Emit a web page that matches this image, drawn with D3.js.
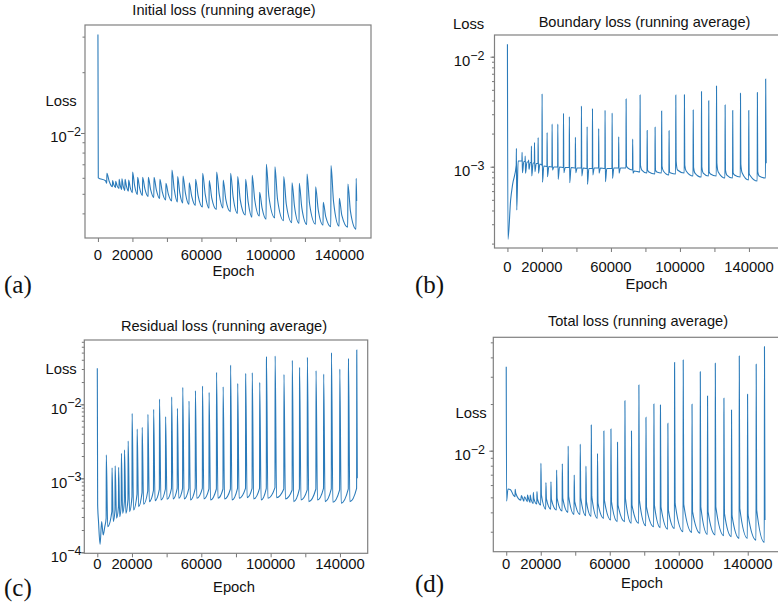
<!DOCTYPE html>
<html>
<head>
<meta charset="utf-8">
<script src="https://cdn.jsdelivr.net/npm/d3@7"></script>
<style>
  body { margin: 0; background: #fff; }
  text { font-family: "Liberation Sans", Arial, sans-serif; fill: #111; }
</style>
</head>
<body>
<div id="chart"></div>
<script>
// epochs where the running averages jump (same for all four panels)
const spikeEpochs = [5200, 8500, 10300, 12300, 13900, 15700, 17800, 20100, 23000, 25900,
  29200, 32500, 35900, 39400, 42900, 46200, 49300, 52900, 56600, 60700,
  64500, 68800, 72600, 76900, 81000, 85600, 89400, 93700, 97600, 102600,
  107700, 112500, 116700, 121200, 126200, 130600, 135100, 139900, 144900, 149700];
const endEpoch = 150000;

const xTickValues = [0, 20000, 40000, 60000, 80000, 100000, 120000, 140000];
const xTickLabels = [0, 20000, 60000, 100000, 140000];

// (a) initial loss
const initStartEpochs = [0, 200, 4400];
const initStartValues = [3.07e-2, 6.0e-3, 5.8e-3];
const initPre = [5.64e-3, 5.42e-3, 5.37e-3, 5.31e-3, 5.25e-3, 5.20e-3, 5.16e-3, 5.07e-3, 4.96e-3, 4.90e-3,
  4.85e-3, 4.79e-3, 4.74e-3, 4.66e-3, 4.61e-3, 4.55e-3, 4.50e-3, 4.43e-3, 4.38e-3, 4.30e-3,
  4.24e-3, 4.18e-3, 4.25e-3, 4.08e-3, 4.00e-3, 3.93e-3, 3.83e-3, 3.88e-3, 3.74e-3, 3.80e-3,
  3.68e-3, 3.60e-3, 3.57e-3, 3.53e-3, 3.54e-3, 3.50e-3, 3.44e-3, 3.46e-3, 3.42e-3, 3.34e-3];
const initPeak = [6.32e-3, 5.81e-3, 5.76e-3, 5.90e-3, 5.94e-3, 5.90e-3, 5.85e-3, 6.41e-3, 6.03e-3, 6.03e-3,
  6.03e-3, 6.03e-3, 5.90e-3, 5.63e-3, 6.56e-3, 6.08e-3, 6.12e-3, 5.67e-3, 5.90e-3, 6.32e-3,
  5.81e-3, 6.41e-3, 5.85e-3, 6.32e-3, 6.08e-3, 5.90e-3, 6.17e-3, 5.09e-3, 7.00e-3, 6.81e-3,
  6.08e-3, 5.67e-3, 5.63e-3, 6.27e-3, 5.42e-3, 4.54e-3, 6.89e-3, 4.75e-3, 5.59e-3, 5.97e-3];
const initPost = [5.77e-3, 5.54e-3, 5.49e-3, 5.50e-3, 5.48e-3, 5.45e-3, 5.37e-3, 5.49e-3, 5.33e-3, 5.29e-3,
  5.26e-3, 5.23e-3, 5.11e-3, 4.98e-3, 5.27e-3, 5.07e-3, 5.03e-3, 4.85e-3, 4.88e-3, 4.97e-3,
  4.76e-3, 5.00e-3, 4.71e-3, 4.81e-3, 4.67e-3, 4.55e-3, 4.67e-3, 4.23e-3, 4.85e-3, 4.70e-3,
  4.44e-3, 4.30e-3, 4.26e-3, 4.45e-3, 4.17e-3, 3.84e-3, 4.56e-3, 3.91e-3, 4.09e-3];
const initEnd = 4.6e-3;

// (b) boundary loss
const bndStartEpochs = [0, 300, 1850, 3000];
const bndStartValues = [1.30e-2, 2.19e-4, 4.98e-4, 6.9e-4];
const bndPre = [1.036e-3, 1.127e-3, 1.115e-3, 1.103e-3, 1.092e-3, 1.080e-3, 1.069e-3, 1.036e-3, 1.004e-3, 9.94e-4,
  9.94e-4, 9.83e-4, 9.83e-4, 9.73e-4, 9.73e-4, 9.63e-4, 9.63e-4, 9.73e-4, 9.63e-4, 9.63e-4,
  9.73e-4, 9.73e-4, 9.33e-4, 8.95e-4, 8.76e-4, 8.58e-4, 8.76e-4, 8.40e-4, 8.58e-4, 8.76e-4,
  8.23e-4, 8.06e-4, 8.23e-4, 8.23e-4, 7.89e-4, 7.89e-4, 8.06e-4, 7.57e-4, 7.41e-4, 7.89e-4];
const bndPeak = [1.47e-3, 1.35e-3, 1.25e-3, 1.15e-3, 1.54e-3, 1.66e-3, 1.84e-3, 4.61e-3, 2.04e-3, 2.44e-3,
  2.44e-3, 3.06e-3, 2.85e-3, 1.85e-3, 3.56e-3, 2.31e-3, 3.38e-3, 2.22e-3, 3.26e-3, 3.08e-3,
  1.87e-3, 4.12e-3, 1.78e-3, 4.49e-3, 2.13e-3, 2.28e-3, 3.21e-3, 2.12e-3, 4.47e-3, 4.50e-3,
  3.28e-3, 4.81e-3, 3.98e-3, 5.42e-3, 3.64e-3, 3.24e-3, 4.65e-3, 3.24e-3, 4.73e-3, 6.27e-3];
const bndPost = [4.04e-4, 8.82e-4, 8.71e-4, 9.47e-4, 8.23e-4, 9.01e-4, 8.71e-4, 7.22e-4, 8.11e-4, 9.33e-4,
  7.68e-4, 8.82e-4, 7.15e-4, 8.82e-4, 8.23e-4, 6.92e-4, 8.40e-4, 8.71e-4, 7.31e-4, 7.84e-4,
  8.71e-4, 1.015e-3, 8.71e-4, 1.036e-3, 9.33e-4, 9.33e-4, 1.015e-3, 9.01e-4, 1.127e-3, 1.036e-3,
  9.87e-4, 1.0e-3, 9.01e-4, 1.087e-3, 9.33e-4, 8.82e-4, 1.058e-3, 8.71e-4, 9.01e-4];
const bndSettle = [1.127e-3, 1.115e-3, 1.103e-3, 1.092e-3, 1.080e-3, 1.069e-3, 1.058e-3, 1.015e-3, 1.004e-3, 9.94e-4,
  9.94e-4, 9.83e-4, 9.83e-4, 9.73e-4, 9.73e-4, 9.63e-4, 9.73e-4, 9.73e-4, 9.63e-4, 9.73e-4,
  9.73e-4, 9.73e-4, 9.14e-4, 9.33e-4, 8.95e-4, 8.95e-4, 9.14e-4, 8.76e-4, 9.33e-4, 9.14e-4,
  8.76e-4, 8.76e-4, 8.58e-4, 8.95e-4, 8.40e-4, 8.40e-4, 8.76e-4, 8.23e-4, 8.23e-4];
const bndEnd = 1.074e-3;

// (c) residual loss
const resStartEpochs = [0, 200, 700, 1600, 2500, 3400, 4300];
const resStartValues = [3.07e-2, 4.4e-4, 2.6e-4, 1.28e-4, 2.6e-4, 1.71e-4, 2.2e-4];
const resPre = [2.88e-4, 3.55e-4, 3.73e-4, 4.14e-4, 4.46e-4, 4.84e-4, 5.26e-4, 5.65e-4, 6.08e-4, 6.40e-4,
  6.74e-4, 6.88e-4, 7.10e-4, 7.17e-4, 7.32e-4, 7.32e-4, 7.32e-4, 7.32e-4, 7.32e-4, 7.32e-4,
  7.17e-4, 7.17e-4, 7.17e-4, 7.17e-4, 7.32e-4, 7.32e-4, 7.32e-4, 7.32e-4, 7.32e-4, 7.48e-4,
  7.17e-4, 6.96e-4, 7.17e-4, 6.96e-4, 7.17e-4, 7.32e-4, 7.17e-4, 6.96e-4, 7.17e-4, 7.32e-4];
const resPeak = [2.07e-3, 1.39e-3, 1.47e-3, 1.41e-3, 2.18e-3, 2.42e-3, 3.20e-3, 7.55e-3, 4.64e-3, 4.89e-3,
  7.33e-3, 8.56e-3, 1.18e-2, 6.81e-3, 1.26e-2, 8.83e-3, 1.70e-2, 1.11e-2, 1.53e-2, 1.77e-2,
  1.45e-2, 2.71e-2, 1.73e-2, 3.40e-2, 1.92e-2, 2.62e-2, 2.68e-2, 1.98e-2, 4.41e-2, 4.50e-2,
  2.54e-2, 3.93e-2, 3.16e-2, 4.32e-2, 2.85e-2, 2.57e-2, 4.99e-2, 3.00e-2, 4.18e-2, 5.42e-2];
const resPost = [2.22e-4, 2.60e-4, 2.88e-4, 3.03e-4, 3.37e-4, 3.37e-4, 3.55e-4, 3.73e-4, 4.14e-4, 4.46e-4,
  4.84e-4, 4.99e-4, 5.10e-4, 5.20e-4, 5.26e-4, 5.37e-4, 5.26e-4, 5.10e-4, 5.37e-4, 5.26e-4,
  5.10e-4, 5.37e-4, 5.26e-4, 5.10e-4, 5.37e-4, 5.48e-4, 5.26e-4, 5.10e-4, 5.37e-4, 5.48e-4,
  5.26e-4, 4.84e-4, 5.10e-4, 4.84e-4, 5.10e-4, 4.84e-4, 4.74e-4, 4.60e-4, 4.84e-4];
const resEnd = 1.0e-3;

// (d) total loss
const totStartEpochs = [0, 200, 1000, 2500, 4000];
const totStartValues = [3.48e-2, 4.73e-3, 5.66e-3, 5.6e-3, 5.2e-3];
const totPre = [5.05e-3, 4.80e-3, 4.73e-3, 4.69e-3, 4.64e-3, 4.57e-3, 4.53e-3, 4.46e-3, 4.20e-3, 4.20e-3,
  4.14e-3, 4.08e-3, 4.00e-3, 3.88e-3, 3.88e-3, 3.81e-3, 3.77e-3, 3.66e-3, 3.66e-3, 3.57e-3,
  3.48e-3, 3.48e-3, 3.40e-3, 3.40e-3, 3.28e-3, 3.23e-3, 3.19e-3, 3.12e-3, 3.15e-3, 3.00e-3,
  2.97e-3, 2.93e-3, 2.88e-3, 2.86e-3, 2.83e-3, 2.79e-3, 2.72e-3, 2.72e-3, 2.65e-3, 2.56e-3];
const totPeak = [5.63e-3, 4.85e-3, 4.85e-3, 5.18e-3, 5.18e-3, 5.38e-3, 5.44e-3, 8.28e-3, 6.22e-3, 6.31e-3,
  7.50e-3, 8.24e-3, 1.072e-2, 6.97e-3, 1.104e-2, 7.96e-3, 1.464e-2, 9.61e-3, 1.339e-2, 1.380e-2,
  1.132e-2, 2.10e-2, 1.339e-2, 2.65e-2, 1.64e-2, 2.00e-2, 1.97e-2, 1.50e-2, 3.71e-2, 3.85e-2,
  1.99e-2, 3.23e-2, 2.25e-2, 3.66e-2, 2.18e-2, 1.83e-2, 4.08e-2, 2.31e-2, 3.61e-2, 4.69e-2];
const totPost = [5.31e-3, 5.13e-3, 5.05e-3, 5.05e-3, 4.97e-3, 4.93e-3, 4.88e-3, 5.18e-3, 4.88e-3, 4.85e-3,
  4.93e-3, 4.93e-3, 5.05e-3, 4.69e-3, 4.97e-3, 4.69e-3, 5.05e-3, 4.57e-3, 4.80e-3, 4.69e-3,
  4.46e-3, 4.93e-3, 4.46e-3, 4.80e-3, 4.35e-3, 4.46e-3, 4.35e-3, 4.14e-3, 4.57e-3, 4.51e-3,
  4.04e-3, 4.35e-3, 4.04e-3, 4.35e-3, 3.94e-3, 3.81e-3, 4.25e-3, 3.85e-3, 4.14e-3];
const totEnd = 3.57e-3;

const width = 778;
const height = 609;

const svg = d3.select("#chart")
  .append("svg")
  .attr("width", width)
  .attr("height", height);

const panels = [
  {
    title: "Initial loss (running average)", letter: "(a)",
    startEpochs: initStartEpochs, startValues: initStartValues,
    pre: initPre, peak: initPeak, post: initPost, end: initEnd, postGap: 1500,
    xDomain: [-7500, 158300], xRange: [85, 371],
    yDomain: [3.021e-3, 3.425e-2], yRange: [238, 25],
    titlePos: [224, 15], lossPos: [45.5, 106], yLabelRight: 81,
    xLabelY: 260, epochPos: [233.5, 276], letterPos: [4, 293]
  },
  {
    title: "Boundary loss (running average)", letter: "(b)",
    startEpochs: bndStartEpochs, startValues: bndStartValues,
    pre: bndPre, peak: bndPeak, post: bndPost, settle: bndSettle, end: bndEnd,
    postGap: 200, settleGap: 1000,
    xDomain: [-7500, 158300], xRange: [494.5, 780.5],
    yDomain: [1.824e-4, 1.575e-2], yRange: [248, 35],
    titlePos: [644.5, 27], lossPos: [453, 29], yLabelRight: 484.5,
    xLabelY: 271.5, epochPos: [646.5, 289], letterPos: [415, 293]
  },
  {
    title: "Residual loss (running average)", letter: "(c)",
    startEpochs: resStartEpochs, startValues: resStartValues,
    pre: resPre, peak: resPeak, post: resPost, end: resEnd, postGap: 800,
    xDomain: [-7500, 156000], xRange: [84.3, 367.7],
    yDomain: [9.69e-5, 7.40e-2], yRange: [553.3, 340],
    titlePos: [224, 331], lossPos: [45.5, 373.5], yLabelRight: 81.5,
    xLabelY: 569, epochPos: [234, 592], letterPos: [4, 596]
  },
  {
    title: "Total loss (running average)", letter: "(d)",
    startEpochs: totStartEpochs, startValues: totStartValues,
    pre: totPre, peak: totPeak, post: totPost, end: totEnd, postGap: 300,
    xDomain: [-7500, 158300], xRange: [493.3, 779.3],
    yDomain: [2.23e-3, 5.39e-2], yRange: [551.7, 337.3],
    titlePos: [638, 325.5], lossPos: [455.5, 417.5], yLabelRight: 485,
    xLabelY: 569, epochPos: [642, 587.5], letterPos: [415, 592]
  }
];

// turn the read-off values into one [epoch, loss] list per panel
function buildPoints(p) {
  const pts = p.startEpochs.map((e, i) => [e, p.startValues[i]]);
  spikeEpochs.forEach((e, i) => {
    const next = i + 1 < spikeEpochs.length ? spikeEpochs[i + 1] : endEpoch;
    const gap = next - e;
    pts.push([e - 100, p.pre[i]], [e, p.peak[i]]);
    if (i < p.post.length) {
      pts.push([e + Math.min(p.postGap, gap * 0.4), p.post[i]]);
      if (p.settle) pts.push([e + Math.min(p.settleGap, gap * 0.6), p.settle[i]]);
    }
  });
  pts.push([endEpoch, p.end]);
  return pts;
}

panels.forEach(p => {
  const x = d3.scaleLinear().domain(p.xDomain).range(p.xRange);
  const y = d3.scaleLog().domain(p.yDomain).range(p.yRange);
  const g = svg.append("g");

  // minor + major y ticks
  const yAxisMinor = d3.axisLeft(y).tickValues(y.ticks()).tickSize(2.5).tickFormat("");
  g.append("g")
    .attr("transform", `translate(${p.xRange[0]},0)`)
    .call(yAxisMinor)
    .call(s => s.select(".domain").remove())
    .call(s => s.selectAll("line").attr("stroke", "#777"));

  const decades = y.ticks().filter(v => Math.abs(Math.log10(v) - Math.round(Math.log10(v))) < 1e-6);
  g.append("g")
    .attr("transform", `translate(${p.xRange[0]},0)`)
    .call(d3.axisLeft(y).tickValues(decades).tickSize(4).tickFormat(""))
    .call(s => s.select(".domain").remove())
    .call(s => s.selectAll("line").attr("stroke", "#777"));

  decades.forEach(v => {
    const t = g.append("text")
      .attr("x", p.yLabelRight)
      .attr("y", y(v) + 9.5)
      .attr("text-anchor", "end")
      .style("font-size", "14.8px");
    t.append("tspan").text("10");
    t.append("tspan")
      .attr("dy", -6.5)
      .style("font-size", "12.5px")
      .text("\u2212" + Math.abs(Math.round(Math.log10(v))));
  });

  // x ticks
  g.append("g")
    .attr("transform", `translate(0,${p.yRange[0]})`)
    .call(d3.axisBottom(x).tickValues(xTickValues).tickSize(4).tickFormat(""))
    .call(s => s.select(".domain").remove())
    .call(s => s.selectAll("line").attr("stroke", "#777"));

  g.selectAll(".xlab")
    .data(xTickLabels)
    .join("text")
    .attr("class", "xlab")
    .attr("x", d => x(d))
    .attr("y", p.xLabelY)
    .attr("text-anchor", "middle")
    .style("font-size", "14.8px")
    .text(d => d);

  // frame
  g.append("rect")
    .attr("x", p.xRange[0])
    .attr("y", p.yRange[1])
    .attr("width", p.xRange[1] - p.xRange[0])
    .attr("height", p.yRange[0] - p.yRange[1])
    .attr("fill", "none")
    .attr("stroke", "#808080")
    .attr("stroke-width", 1.2);

  const line = d3.line()
    .x(d => x(d[0]))
    .y(d => y(d[1]))
    .curve(d3.curveMonotoneX);

  g.append("path")
    .datum(buildPoints(p))
    .attr("d", line)
    .attr("fill", "none")
    .attr("stroke", "#2b7bba")
    .attr("stroke-width", 1.1);

  g.append("text")
    .attr("x", p.titlePos[0])
    .attr("y", p.titlePos[1])
    .attr("text-anchor", "middle")
    .style("font-size", "14.6px")
    .text(p.title);

  g.append("text")
    .attr("x", p.lossPos[0])
    .attr("y", p.lossPos[1])
    .style("font-size", "14.8px")
    .text("Loss");

  g.append("text")
    .attr("x", p.epochPos[0])
    .attr("y", p.epochPos[1])
    .attr("text-anchor", "middle")
    .style("font-size", "14.8px")
    .text("Epoch");

  g.append("text")
    .attr("x", p.letterPos[0])
    .attr("y", p.letterPos[1])
    .style("font-family", "'Liberation Serif', 'DejaVu Serif', serif")
    .style("font-size", "25px")
    .text(p.letter);
});
</script>
</body>
</html>
